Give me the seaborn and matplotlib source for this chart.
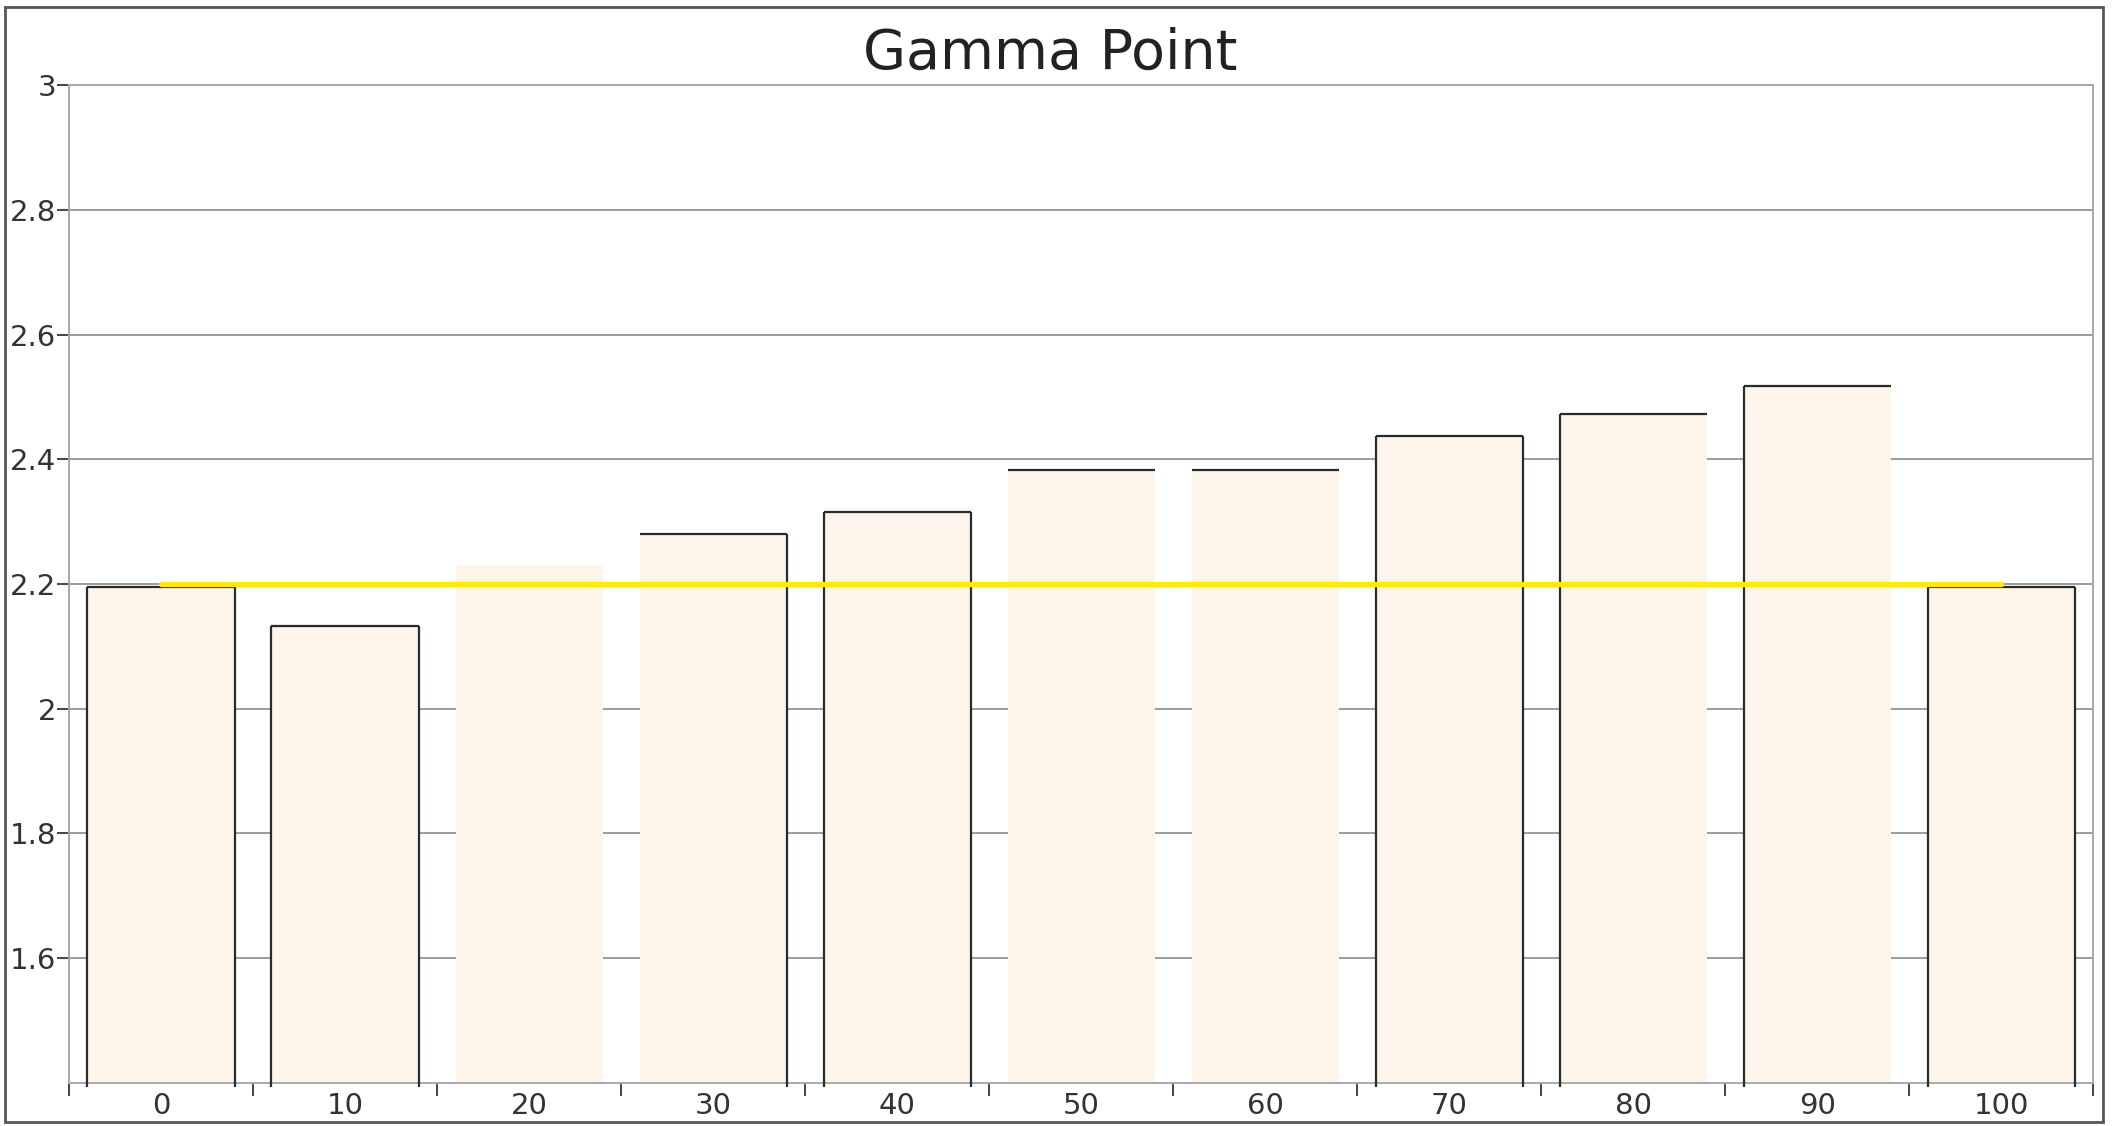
import numpy as np
import pandas as pd
import seaborn as sns
import matplotlib.pyplot as plt
from matplotlib.patches import Rectangle
from matplotlib.ticker import FormatStrFormatter

# values
levels = ["0", "10", "20", "30", "40", "50", "60", "70", "80", "90", "100"]
gamma = [2.195, 2.133, 2.23, 2.28, 2.316, 2.383, 2.383, 2.437, 2.473, 2.517, 2.195]
target = [2.2] * len(levels)
# sides of each bar that carry the dark outline (L=left, T=top, R=right)
outline = ["LTR", "LTR", "", "TR", "LTR", "T", "T", "LTR", "LT", "LT", "LTR"]
yticks = [1.6, 1.8, 2.0, 2.2, 2.4, 2.6, 2.8, 3.0]

sns.set_style("white")
plt.rcParams['font.family'] = ['DejaVu Sans']

fig = plt.figure(figsize=(21.13, 11.26), dpi=100)
ax = fig.add_axes([0.0327, 0.0382, 0.9579, 0.8863])

df = pd.DataFrame({"level": levels, "gamma": gamma})
sns.barplot(data=df, x="level", y="gamma", color="#fdf4ea", saturation=1,
            width=0.8, edgecolor="#fdf4ea", linewidth=0, ax=ax)

ax.set_xlim(-0.5, len(levels) - 0.5)
ax.set_ylim(1.4, 3.0)
ymin = ax.get_ylim()[0]

# partial outlines, taken from the bar patches seaborn drew
for bar, sides in zip(ax.patches, outline):
    x0 = bar.get_x()
    x1 = x0 + bar.get_width()
    top = bar.get_height()
    kw = dict(color="#2a2a2a", lw=1.6, zorder=3, solid_capstyle="butt")
    if "L" in sides:
        ax.plot([x0, x0], [ymin - 0.006, top], clip_on=False, **kw)
    if "R" in sides:
        ax.plot([x1, x1], [ymin - 0.006, top], clip_on=False, **kw)
    if "T" in sides:
        ax.plot([x0, x1], [top, top], **kw)

# reference line
sns.lineplot(x=np.arange(len(levels)), y=target, color="#ffea00", lw=3.8,
             ax=ax, zorder=4)

ax.set_yticks(yticks)
ax.yaxis.set_major_formatter(FormatStrFormatter('%g'))
ax.set_xlabel("")
ax.set_ylabel("")

ax.set_axisbelow(True)
ax.yaxis.grid(True, color="#9c9c9c", lw=1.4)
ax.xaxis.grid(False)
for s in ax.spines.values():
    s.set_color("#a8a8a8")
    s.set_linewidth(1.4)

ax.set_xticks(np.arange(-0.5, len(levels), 1), minor=True)
ax.tick_params(axis="x", which="major", length=0, pad=6.5, labelsize=21,
               labelcolor="#333333")
ax.tick_params(axis="x", which="minor", bottom=True, direction="out",
               length=9, width=1.4, color="#444444")
ax.tick_params(axis="y", left=True, direction="out", length=8.5, width=1.4,
               color="#444444", pad=1, labelsize=21, labelcolor="#333333")

fig.text(0.497, 0.952, "Gamma Point", ha="center", va="center",
         fontsize=40, color="#222222")

fig.add_artist(Rectangle((0.0024, 0.0036), 0.9929, 0.990,
                         transform=fig.transFigure, fill=False,
                         ec="#555555", lw=2))

fig.savefig("out.png", dpi=100)
